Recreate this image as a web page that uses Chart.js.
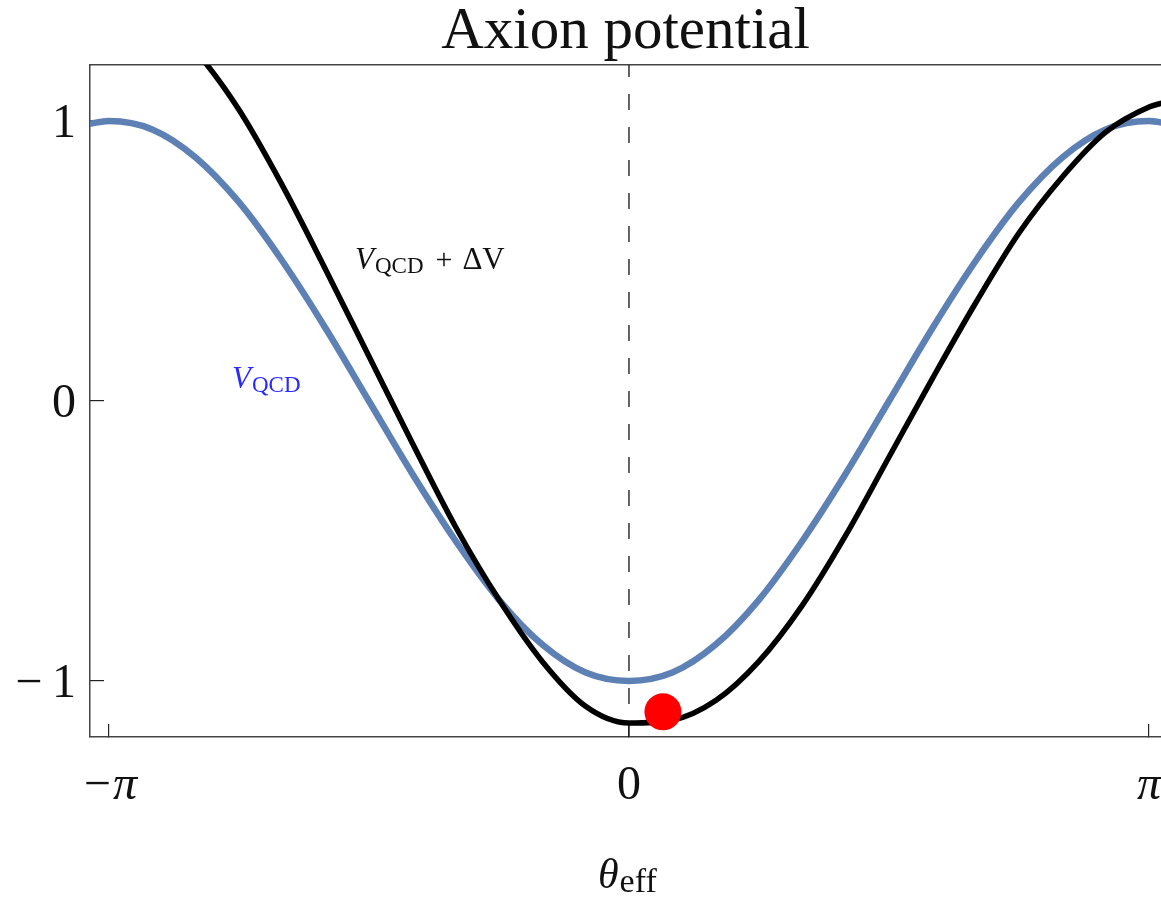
<!DOCTYPE html>
<html>
<head>
<meta charset="utf-8">
<script src="https://cdn.jsdelivr.net/npm/chart.js@4"></script>
<style>
  html, body { margin: 0; padding: 0; background: #fff; overflow: hidden; }
  canvas { display: block; }
</style>
</head>
<body>
<canvas id="axionChart" width="1161" height="897"></canvas>
<script>
// theta_eff sample points (radians)
const theta = [-3.26, -3.142, -2.880, -2.618, -2.356, -2.094, -1.833, -1.571, -1.309, -1.047, -0.785, -0.524, -0.262,
  0, 0.262, 0.524, 0.785, 1.047, 1.309, 1.571, 1.833, 2.094, 2.356, 2.618, 2.880, 3.142, 3.26];
// V_QCD (blue)
const vQcd = [0.99, 1.00, 0.97, 0.87, 0.71, 0.50, 0.26, 0.00, -0.26, -0.50, -0.71, -0.87, -0.97,
  -1.00, -0.97, -0.87, -0.71, -0.50, -0.26, 0.00, 0.26, 0.50, 0.71, 0.87, 0.97, 1.00, 0.99];
// V_QCD + dV (black)
const vTotal = [1.49, 1.47, 1.40, 1.25, 1.04, 0.77, 0.47, 0.16, -0.15, -0.45, -0.71, -0.93, -1.09,
  -1.15, -1.14, -1.07, -0.93, -0.73, -0.48, -0.20, 0.08, 0.35, 0.60, 0.80, 0.96, 1.05, 1.07];
// red ball
const dotTheta = [0.205];
const dotV = [-1.11];
// dashed guide at theta = 0
const guideTheta = [0, 0];
const guideV = [-1.2, 1.2];

const xTicks = [-Math.PI, 0, Math.PI];
const xTickLabels = ['\u2212\u03c0', '0', '\u03c0'];
const yTicks = [-1, 0, 1];
const yTickLabels = ['\u2212\u20091', '0', '1'];

const serif = '"Liberation Serif", "DejaVu Serif", serif';

function toPoints(xs, ys) {
  return xs.map((x, i) => ({ x: x, y: ys[i] }));
}

// writes main text, a lowered smaller subscript and optional trailing text
function drawSubText(ctx, px, py, parts) {
  let cx = px;
  parts.forEach(p => {
    ctx.font = p.font;
    ctx.fillStyle = p.color;
    ctx.fillText(p.text, cx, py + (p.drop || 0));
    cx += ctx.measureText(p.text).width + (p.gap || 0);
  });
}

const labelPlugin = {
  id: 'curveLabels',
  afterDraw(chart) {
    const ctx = chart.ctx;
    const xs = chart.scales.x;
    const ys = chart.scales.y;
    ctx.save();
    ctx.textAlign = 'left';
    ctx.textBaseline = 'alphabetic';

    // V_QCD label (blue)
    drawSubText(ctx, xs.getPixelForValue(-2.398), ys.getPixelForValue(0.046), [
      { text: 'V', font: 'italic 31px ' + serif, color: '#2b2bff', gap: 1 },
      { text: 'QCD', font: '23px ' + serif, color: '#2b2bff', drop: 4 }
    ]);

    // V_QCD + dV label (black)
    drawSubText(ctx, xs.getPixelForValue(-1.655), ys.getPixelForValue(0.47), [
      { text: 'V', font: 'italic 31px ' + serif, color: '#111', gap: 1 },
      { text: 'QCD', font: '23px ' + serif, color: '#111', drop: 4, gap: 12 },
      { text: '+', font: '30px ' + serif, color: '#111', gap: 10 },
      { text: '\u0394V', font: '31px ' + serif, color: '#111' }
    ]);

    // x axis title theta_eff
    const cx = xs.getPixelForValue(0) - 31;
    drawSubText(ctx, cx, 888, [
      { text: '\u03b8', font: 'italic 42px ' + serif, color: '#111', gap: 1 },
      { text: 'eff', font: '34px ' + serif, color: '#111', drop: 4 }
    ]);
    ctx.restore();
  }
};

const ctx = document.getElementById('axionChart').getContext('2d');
const chart = new Chart(ctx, {
  type: 'scatter',
  data: {
    datasets: [
      {
        label: 'ball',
        data: toPoints(dotTheta, dotV),
        pointRadius: 18.5,
        pointBackgroundColor: '#ff0000',
        pointBorderWidth: 0,
        showLine: false
      },
      {
        label: 'V_QCD + dV',
        data: toPoints(theta, vTotal),
        showLine: true,
        borderColor: '#000000',
        borderWidth: 5.5,
        pointRadius: 0,
        cubicInterpolationMode: 'monotone'
      },
      {
        label: 'V_QCD',
        data: toPoints(theta, vQcd),
        showLine: true,
        borderColor: '#5e81b5',
        borderWidth: 6.5,
        pointRadius: 0,
        cubicInterpolationMode: 'monotone'
      },
      {
        label: 'guide',
        data: toPoints(guideTheta, guideV),
        showLine: true,
        borderColor: '#222222',
        borderWidth: 1.4,
        borderDash: [16, 17],
        pointRadius: 0
      }
    ]
  },
  options: {
    responsive: false,
    animation: false,
    events: [],
    layout: { padding: 0, autoPadding: false },
    plugins: {
      legend: { display: false },
      tooltip: { enabled: false },
      title: {
        display: true,
        text: 'Axion potential',
        fullSize: false,
        color: '#111',
        font: { family: serif, size: 59, weight: 'normal', lineHeight: 1 },
        padding: { top: 3, bottom: 3 }
      }
    },
    scales: {
      x: {
        type: 'linear',
        position: 'bottom',
        min: -3.256,
        max: 3.214,
        afterBuildTicks: s => { s.ticks = xTicks.map(v => ({ value: v })); },
        afterFit: s => { s.height = 160; s.paddingLeft = 0; s.paddingRight = 0; },
        ticks: {
          autoSkip: false,
          maxRotation: 0,
          padding: 34,
          color: '#111',
          font: c => ({ family: serif, size: 48, style: (c.tick && c.tick.value !== 0) ? 'italic' : 'normal' }),
          callback: (v, i) => xTickLabels[i]
        },
        grid: { drawOnChartArea: false, drawTicks: true, tickLength: -13, color: '#222', lineWidth: 1.2 },
        border: { display: true, color: '#444', width: 1.5 }
      },
      xTop: {
        type: 'linear',
        position: 'top',
        min: -3.256,
        max: 3.214,
        afterFit: s => { s.height = 0; s.paddingLeft = 0; s.paddingRight = 0; },
        ticks: { display: false },
        grid: { drawOnChartArea: false, drawTicks: false },
        border: { display: true, color: '#444', width: 1.5 }
      },
      y: {
        type: 'linear',
        position: 'left',
        min: -1.2,
        max: 1.2,
        afterBuildTicks: s => { s.ticks = yTicks.map(v => ({ value: v })); },
        afterFit: s => { s.width = 90; },
        ticks: {
          autoSkip: false,
          padding: 28,
          labelOffset: 3,
          color: '#111',
          font: { family: serif, size: 48 },
          callback: (v, i) => yTickLabels[i]
        },
        grid: { drawOnChartArea: false, drawTicks: true, tickLength: -14, color: '#222', lineWidth: 1.2 },
        border: { display: true, color: '#444', width: 1.5 }
      }
    }
  },
  plugins: [labelPlugin]
});
</script>
</body>
</html>
